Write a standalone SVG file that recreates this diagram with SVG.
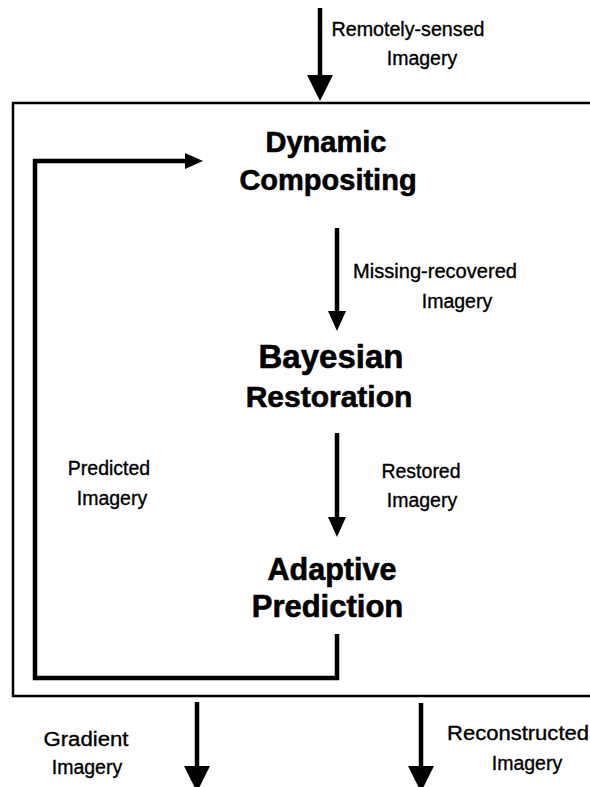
<svg xmlns="http://www.w3.org/2000/svg" width="590" height="787" viewBox="0 0 590 787">
  <style>
    .lbl { font-family: "Liberation Sans", Arial, Helvetica, sans-serif; font-size: 19.5px; fill: #000; stroke: #000; stroke-width: 0.35; text-anchor: middle; }
    .node { font-family: "Liberation Sans", Arial, Helvetica, sans-serif; font-weight: bold; fill: #000; stroke: #000; stroke-width: 0.6; text-anchor: middle; }
    .conn { fill: none; stroke: #000; stroke-width: 4.5; }
    .frame { fill: none; stroke: #000; stroke-width: 2.5; }
  </style>
  <defs>
    <marker id="big" viewBox="0 0 26 26" markerWidth="26" markerHeight="26" markerUnits="userSpaceOnUse" refX="14" refY="13" orient="auto">
      <path d="M0,0 L26,13 L0,26 z" fill="#000"/>
    </marker>
    <marker id="small" viewBox="0 0 20 18" markerWidth="20" markerHeight="18" markerUnits="userSpaceOnUse" refX="8" refY="9" orient="auto">
      <path d="M0,0 L20,9 L0,18 z" fill="#000"/>
    </marker>
    <marker id="loop" viewBox="0 0 18 16" markerWidth="18" markerHeight="16" markerUnits="userSpaceOnUse" refX="6" refY="8" orient="auto">
      <path d="M0,0 L18,8 L0,16 z" fill="#000"/>
    </marker>
  </defs>
  <rect width="590" height="787" fill="#fff"/>

  <g id="system-frame">
    <rect class="frame" x="13" y="103" width="600" height="593"/>
  </g>

  <g id="connectors">
    <line class="conn" x1="320" y1="8" x2="320" y2="89" marker-end="url(#big)"/>
    <line class="conn" x1="337" y1="228" x2="337" y2="319" marker-end="url(#small)"/>
    <line class="conn" x1="337" y1="433" x2="337" y2="525" marker-end="url(#small)"/>
    <polyline class="conn" stroke-width="5" points="337,634 337,678 35,678 35,161 191,161" marker-end="url(#loop)"/>
    <line class="conn" x1="197" y1="702" x2="197" y2="780" marker-end="url(#big)"/>
    <line class="conn" x1="421" y1="703" x2="421" y2="780" marker-end="url(#big)"/>
  </g>

  <g id="node-dynamic-compositing">
    <text class="node" x="326" y="152" font-size="29">Dynamic</text>
    <text class="node" x="328" y="190" font-size="29">Compositing</text>
  </g>
  <g id="node-bayesian-restoration">
    <text class="node" x="331" y="368" font-size="33">Bayesian</text>
    <text class="node" x="329" y="407" font-size="30">Restoration</text>
  </g>
  <g id="node-adaptive-prediction">
    <text class="node" x="332" y="580" font-size="30.5">Adaptive</text>
    <text class="node" x="327.5" y="617" font-size="31">Prediction</text>
  </g>

  <g id="labels">
    <text class="lbl" x="408" y="36" textLength="153" lengthAdjust="spacingAndGlyphs">Remotely-sensed</text>
    <text class="lbl" x="422" y="65">Imagery</text>
    <text class="lbl" x="435" y="278" textLength="164" lengthAdjust="spacingAndGlyphs">Missing-recovered</text>
    <text class="lbl" x="457" y="308">Imagery</text>
    <text class="lbl" x="421" y="478">Restored</text>
    <text class="lbl" x="422" y="507">Imagery</text>
    <text class="lbl" x="109" y="475">Predicted</text>
    <text class="lbl" x="112" y="505">Imagery</text>
    <text class="lbl" x="86" y="746" textLength="85" lengthAdjust="spacingAndGlyphs">Gradient</text>
    <text class="lbl" x="87" y="774">Imagery</text>
    <text class="lbl" x="518" y="740" textLength="142" lengthAdjust="spacingAndGlyphs">Reconstructed</text>
    <text class="lbl" x="527" y="770">Imagery</text>
  </g>
</svg>
